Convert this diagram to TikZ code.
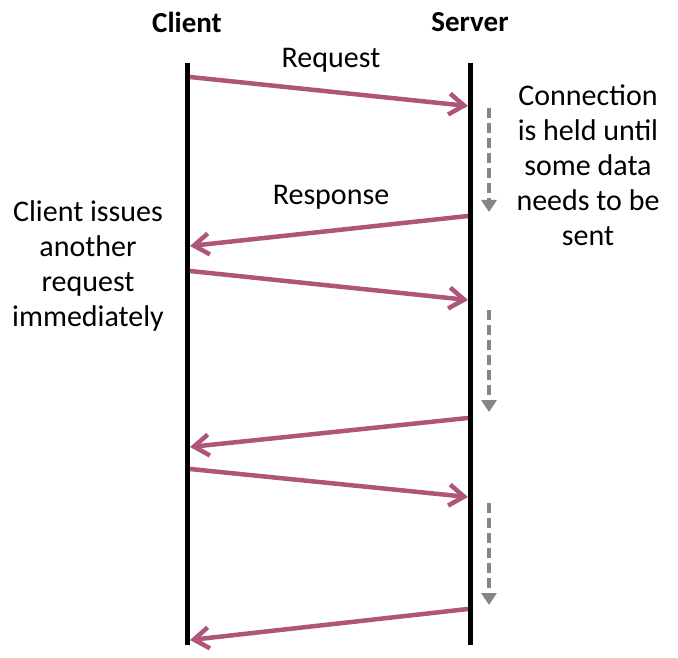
\documentclass[tikz,border=0pt]{standalone}
\usepackage{fontspec}
\setmainfont{Carlito}
\usetikzlibrary{positioning, arrows.meta}
\definecolor{msgPink}{HTML}{B0557A}
\definecolor{waitGrey}{HTML}{858585}

\begin{document}
\begin{tikzpicture}[x=1pt, y=-1pt,
    lbl/.style={font=\fontsize{30}{35}\selectfont, align=center, inner sep=0pt},
    title/.style={lbl, font=\fontsize{29}{35}\selectfont\bfseries},
    life/.style={line width=5pt},
    msg/.style={-{Straight Barb[length=15pt, width=21pt]}, line width=4.5pt, msgPink},
    wait/.style={-{Triangle[length=12pt, width=15pt]}, line width=4.5pt, waitGrey,
      dash pattern=on 10pt off 5pt}]
    \useasboundingbox (0,0) rectangle (678,658);
    \node[title] (client) at (187,22) {Client};
    \node[title] (server) at (470,22) {Server};
    \coordinate (cTop) at (187,63); \coordinate (cBot) at (187,645);
    \coordinate (sTop) at (470,63); \coordinate (sBot) at (470,645);
    \draw[life](cTop)--(cBot);\draw[life](sTop)--(sBot);
    % requests and responses
    \foreach \i/\ya/\yb in {1/77/106, 3/271/300, 5/469/497} {
      \coordinate (c\i) at (190,\ya); \coordinate (s\i) at (468,\yb);
      \draw[msg](c\i)--(s\i);}
    \foreach \i/\ya/\yb in {2/216/246, 4/418/447, 6/609/640} {
      \coordinate (s\i) at (468,\ya); \coordinate (c\i) at (190,\yb);
      \draw[msg](s\i)--(c\i);}
    % server holding the connection
    \foreach \i/\ya/\yb in {1/108/212, 2/310/412, 3/503/605} {
      \coordinate (w\i a) at (489,\ya); \coordinate (w\i b) at (489,\yb);
      \draw[wait](w\i a)--(w\i b);}
    \node[lbl] (req) at (331,60) {Request};
    \node[lbl] (resp) at (331,197) {Response};
    \node[lbl] (held) at (588,165) {Connection\\is held until\\some data\\needs to be\\sent};
    \node[lbl] (again) at (88,266) {Client issues\\another\\request\\immediately};
  \end{tikzpicture}
\end{document}
